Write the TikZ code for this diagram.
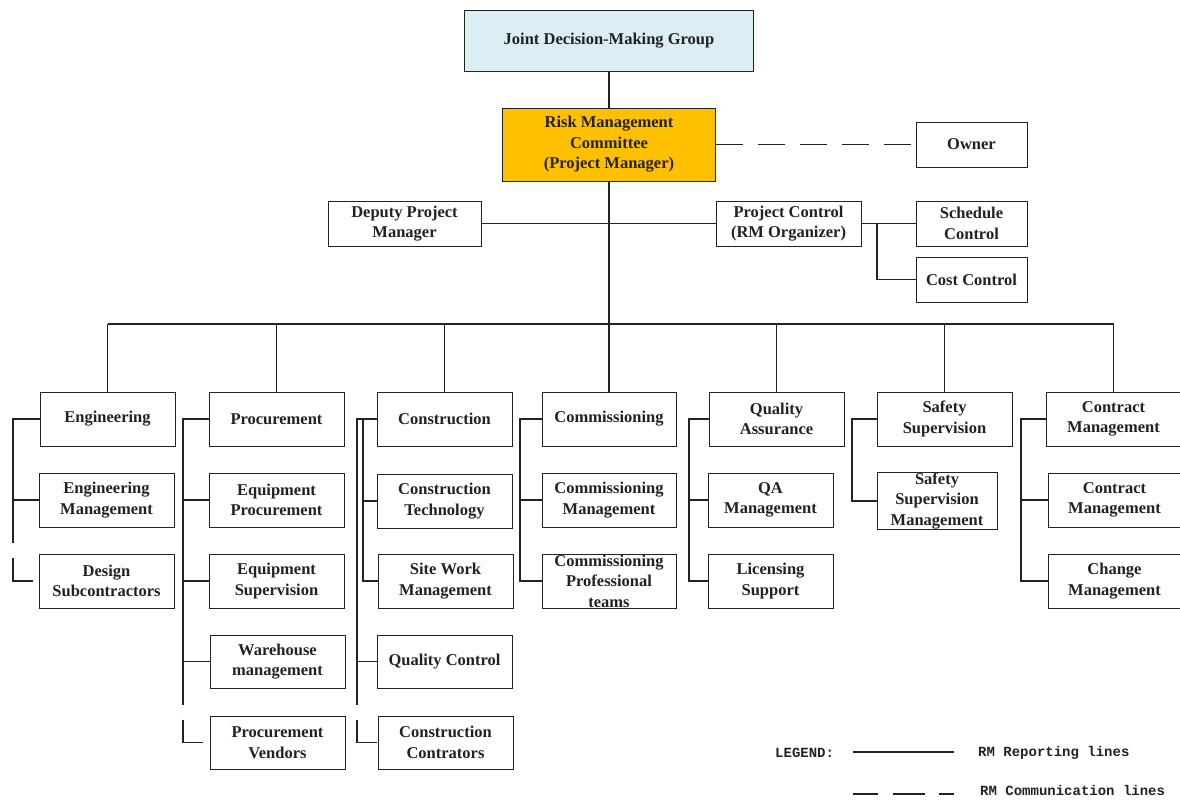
\documentclass[tikz,border=0pt]{standalone}
\usepackage{fontspec}
\setmainfont{Liberation Serif}
\setmonofont{Liberation Mono}
\definecolor{jdblue}{HTML}{DBEEF4}
\definecolor{rmorange}{HTML}{FFC000}
\definecolor{ink}{HTML}{222222}
\begin{document}
\begin{tikzpicture}[x=1pt,y=-1pt,
  box/.style={draw=ink, line width=0.9pt, fill=white, inner sep=0pt, align=center,
    text=ink, font=\bfseries\fontsize{16.5}{20.5}\selectfont},
  conn/.style={draw=ink, line width=1.6pt},
  trunk/.style={draw=ink, line width=2.2pt},
  comm/.style={draw=ink, line width=1.6pt, dash pattern=on 27pt off 15pt},
  legtext/.style={inner sep=0pt, anchor=west, text=ink, font=\ttfamily\bfseries\fontsize{14}{16}\selectfont}
]
\useasboundingbox (0,0) rectangle (1180,800);
\begin{scope}
\clip (0,0) rectangle (1180,800);
% top
\node[box, fill=jdblue, minimum width=289pt, minimum height=61pt] (jd) at (609,40.5) {Joint Decision-Making Group};
\node[box, fill=rmorange, minimum width=213pt, minimum height=73pt] (rmc) at (609,144.5) {Risk Management\\Committee\\(Project Manager)};
\node[box, minimum width=111pt, minimum height=45pt] (own) at (971.5,144.5) {Owner};
\node[box, minimum width=153pt, minimum height=45pt] (dpm) at (404.5,223.5) {Deputy Project\\Manager};
\node[box, minimum width=145pt, minimum height=45pt] (pc) at (788.5,223.5) {Project Control\\(RM Organizer)};
\node[box, minimum width=111pt, minimum height=45pt] (sc) at (971.5,223.5) {Schedule\\Control};
\node[box, minimum width=111pt, minimum height=45pt] (cc) at (971.5,279.5) {Cost Control};

% columns
\node[box, minimum width=135pt, minimum height=54pt] (eng) at (107.5,419) {Engineering};
\node[box, minimum width=135pt, minimum height=54pt] (engm) at (106.5,500) {Engineering\\Management};
\node[box, minimum width=135pt, minimum height=54pt] (ds) at (106.5,581) {Design\\Subcontractors};

\node[box, minimum width=135pt, minimum height=54pt] (pro) at (276.5,419) {Procurement};
\node[box, minimum width=135pt, minimum height=54pt] (ep) at (276.5,500) {Equipment\\Procurement};
\node[box, minimum width=135pt, minimum height=54pt] (es) at (276.5,581) {Equipment\\Supervision};
\node[box, minimum width=135pt, minimum height=53pt] (wm) at (277.5,661.5) {Warehouse\\management};
\node[box, minimum width=135pt, minimum height=53pt] (pv) at (277.5,742.5) {Procurement\\Vendors};

\node[box, minimum width=135pt, minimum height=54pt] (con) at (444.5,419) {Construction};
\node[box, minimum width=135pt, minimum height=54pt] (ct) at (444.5,501) {Construction\\Technology};
\node[box, minimum width=135pt, minimum height=54pt] (sw) at (445.5,581) {Site Work\\Management};
\node[box, minimum width=135pt, minimum height=53pt] (qc) at (444.5,661.5) {Quality Control};
\node[box, minimum width=135pt, minimum height=53pt] (cctr) at (445.5,742.5) {Construction\\Contrators};

\node[box, minimum width=134pt, minimum height=54pt] (com) at (609,419) {Commissioning};
\node[box, minimum width=134pt, minimum height=54pt] (comm) at (609,500) {Commissioning\\Management};
\node[box, minimum width=134pt, minimum height=54pt] (cpt) at (609,581) {Commissioning\\Professional\\teams};

\node[box, minimum width=135pt, minimum height=54pt] (qa) at (776.5,419) {Quality\\Assurance};
\node[box, minimum width=125pt, minimum height=54pt] (qam) at (770.5,500) {QA\\Management};
\node[box, minimum width=125pt, minimum height=54pt] (ls) at (770.5,581) {Licensing\\Support};

\node[box, minimum width=135pt, minimum height=54pt] (ss) at (944.5,419) {Safety\\Supervision};
\node[box, minimum width=120pt, minimum height=54pt] (ssm) at (937,501) {Safety\\Supervision\\Management};

\node[box, minimum width=135pt, minimum height=54pt] (ctm) at (1113.5,419) {Contract\\Management};
\node[box, minimum width=133pt, minimum height=54pt] (ctm2) at (1114.5,500) {Contract\\Management};
\node[box, minimum width=133pt, minimum height=54pt] (chm) at (1114.5,581) {Change\\Management};

% upper connectors
\coordinate (bus) at (609,324);
\draw[conn] (jd.south) -- (rmc.north);
\draw[comm] (rmc.east) -- (own.west);
\draw[trunk] (rmc.south) -- (rmc.south |- bus);
\draw[conn] (dpm.east) -- (pc.west);
\draw[conn] (pc.east) -- (sc.west);
\coordinate (pcs) at (877,223.5);
\draw[conn] (pcs) |- (cc.west);

% bus
\draw[conn] (eng.north |- bus) -- (ctm.north |- bus);
\foreach \n in {eng,pro,con,com,qa,ss,ctm} \draw[conn] (\n.north |- bus) -- (\n.north);

% column 1
\coordinate (s1) at (13,419);
\draw[conn] (eng.west) -- (s1) |- (engm.west);
\draw[comm, dash pattern=on 43pt off 15pt] (s1 |- engm.west) |- (ds.west);
% column 2
\coordinate (s2) at (183,419);
\draw[conn] (pro.west) -- (s2) |- (wm.west);
\foreach \n in {ep,es} \draw[conn] (s2 |- \n.west) -- (\n.west);
\draw[comm, dash pattern=on 43pt off 15pt] (s2 |- wm.west) |- (pv.west);
% column 3
\coordinate (s3) at (357,419);
\coordinate (s3b) at (363,419);
\draw[conn] (con.west) -- (s3) |- (qc.west);
\draw[conn] (s3b) |- (sw.west);
\draw[conn] (s3b |- ct.west) -- (ct.west);
\draw[comm, dash pattern=on 43pt off 15pt] (s3 |- qc.west) |- (cctr.west);
% column 4
\coordinate (s4) at (520,419);
\draw[conn] (com.west) -- (s4) |- (cpt.west);
\draw[conn] (s4 |- comm.west) -- (comm.west);
% column 5
\coordinate (s5) at (689,419);
\draw[conn] (qa.west) -- (s5) |- (ls.west);
\draw[conn] (s5 |- qam.west) -- (qam.west);
% column 6
\coordinate (s6) at (852,419);
\draw[conn] (ss.west) -- (s6) |- (ssm.west);
% column 7
\coordinate (s7) at (1021,419);
\draw[conn] (ctm.west) -- (s7) |- (chm.west);
\draw[conn] (s7 |- ctm2.west) -- (ctm2.west);

% legend
\node[legtext] (lg) at (775,753) {LEGEND:};
\coordinate (l1a) at (853,752);
\coordinate (l1b) at (954,752);
\draw[conn, line width=1.2pt] (l1a) -- (l1b);
\node[legtext] (lrep) at (978,753) {RM Reporting lines};
\coordinate (l2a) at (853,794);
\coordinate (l2b) at (954,794);
\draw[conn, line width=1.2pt, dash pattern=on 25pt off 15pt on 32pt off 14pt] (l2a) -- (l2b);
\node[legtext] (lcom) at (980,790) {RM Communication lines};
\end{scope}
\end{tikzpicture}
\end{document}
